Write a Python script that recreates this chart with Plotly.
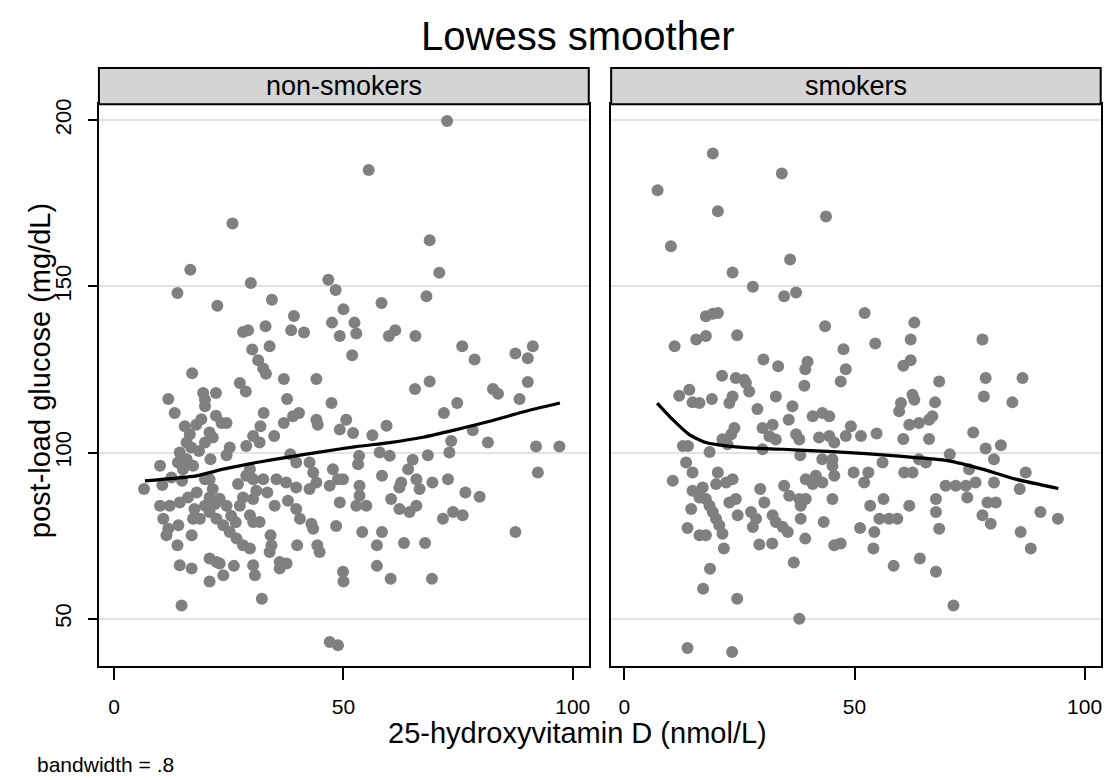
import plotly.graph_objects as go

# ---------------- data ----------------
panels = ["non-smokers", "smokers"]

ns_x = [72.6, 55.5, 25.8, 68.8, 16.6, 70.9, 29.8, 13.8, 46.7, 48.3, 22.5, 34.4, 58.3, 68.1, 50.0, 39.2, 47.5, 52.4,
        33.0, 28.1, 29.2, 38.6, 41.4, 52.8, 49.2, 61.3, 59.9, 65.7, 33.9, 30.1, 31.4, 32.5, 51.9, 75.9, 78.6, 87.5,
        91.3, 90.2, 17.0, 37.0, 44.1, 68.8, 27.4, 90.2,
        28.7, 33.1, 65.6, 82.6, 83.7, 88.4, 11.8, 19.4, 19.8, 19.8, 22.2, 37.7, 47.4, 74.8, 71.9, 13.2, 32.6, 22.2,
        40.3, 39.0, 44.1, 44.4, 37.0, 24.5, 50.6, 49.2, 52.1, 31.9, 59.4, 15.4, 17.9, 16.5, 15.8, 20.8, 19.8, 23.4,
        34.9, 30.3, 28.8, 31.7, 56.3, 78.2, 73.5, 73.1, 81.5, 92.0, 97.1, 92.4, 25.2, 24.5, 14.3, 13.9, 15.8, 17.2,
        15.0, 10.0, 6.5, 10.5, 38.4, 39.7, 42.6, 43.4, 44.1, 42.6, 53.4, 53.2, 57.9, 60.1, 68.4, 65.1, 64.1, 47.7,
        48.8, 47.0, 49.9, 29.6, 28.8, 30.3, 32.5, 35.4, 37.5, 39.7, 19.8, 20.8, 58.4, 62.6, 62.2, 65.9, 66.6, 69.4,
        72.8, 33.4, 53.5, 53.5, 52.8, 55.0, 60.4, 76.6, 79.7, 49.2, 10.0, 12.1, 14.3, 16.1, 20.8, 19.8, 18.7, 20.8,
        23.0, 24.5, 22.3, 28.1, 27.4, 30.3, 35.0, 37.9, 39.7, 40.5, 62.2, 64.4, 65.9, 71.7, 73.9, 76.0, 10.7, 11.8,
        14.0, 17.2, 29.6, 30.3, 31.7, 43.0, 43.4, 48.4, 23.8, 25.2, 26.7, 28.1, 29.6, 11.4, 16.9, 34.1, 34.3, 33.9,
        54.1, 58.4, 13.8, 39.9, 44.3, 44.8, 57.3, 63.2, 67.8, 87.5, 36.1, 37.6, 36.1, 20.8, 22.3, 23.0, 14.3, 16.9,
        26.1, 30.3, 30.7, 23.8, 20.8, 49.9, 50.0, 57.3, 60.3, 69.3, 32.2, 14.7, 47.0, 48.8,
        18.0, 21.5, 17.5, 22.0, 25.5, 26.5, 18.5, 21.0, 16.8, 19.0, 21.5, 27.0, 31.0, 14.8, 12.5]
ns_y = [199.8, 185.0, 168.9, 163.9, 155.0, 154.1, 151.0, 148.0, 152.0, 148.9, 144.2, 146.0, 145.0, 147.0, 143.1,
        141.1, 139.1, 139.1, 138.0, 136.3, 136.8, 136.8, 136.1, 135.8, 135.1, 136.8, 135.1, 135.1, 132.0, 131.0,
        127.8, 125.3, 129.3, 132.0, 128.0, 129.8, 132.0, 128.4, 123.9, 122.1, 122.1, 121.4, 120.9, 121.2,
        118.4, 123.7, 119.1, 119.1, 117.7, 116.1, 116.1, 117.9, 115.9, 113.9, 117.9, 116.1, 114.9, 114.9, 111.9,
        111.9, 111.9, 111.1, 111.9, 110.9, 109.9, 108.4, 108.9, 108.9, 109.9, 106.9, 105.9, 107.9, 108.1, 107.9,
        108.4, 105.5, 103.0, 106.0, 103.0, 108.9, 105.0, 105.0, 102.0, 103.0, 105.2, 106.7, 103.5, 100.0, 103.0,
        101.8, 101.8, 94.0, 101.5, 99.2, 100.0, 97.0, 98.0, 96.0, 95.0, 96.0, 89.0, 90.2, 99.5, 97.0, 97.0, 94.0,
        91.0, 89.0, 99.0, 96.5, 100.0, 99.0, 99.2, 97.8, 95.0, 95.0, 92.0, 90.0, 92.0, 95.0, 93.0, 92.0, 92.0, 92.0,
        91.0, 89.5, 92.0, 92.0, 93.0, 91.0, 89.5, 92.0, 89.0, 91.0, 92.0, 88.0, 90.0, 87.0, 84.0, 84.0, 86.0, 88.0,
        86.7, 85.0, 84.0, 84.0, 85.0, 86.5, 86.5, 84.0, 80.1, 82.1, 86.1, 84.0, 80.1, 86.5, 84.0, 86.0, 84.0, 85.5,
        83.0, 80.1, 83.0, 82.1, 84.0, 80.1, 82.1, 81.1, 80.1, 77.1, 78.1, 80.1, 81.1, 79.1, 79.1, 78.6, 77.1, 77.9,
        78.1, 76.1, 74.1, 72.1, 71.1, 75.1, 75.1, 75.1, 72.1, 70.1, 76.1, 76.1, 72.1, 72.1, 72.1, 70.1, 72.1, 72.8,
        72.8, 76.1, 67.1, 66.6, 65.1, 68.1, 67.1, 66.6, 66.1, 65.1, 65.9, 66.1, 63.1, 63.1, 61.2, 64.1, 61.2, 65.9,
        62.0, 62.0, 56.0, 54.0, 43.0, 42.0,
        88.0, 89.0, 83.0, 84.5, 81.0, 79.0, 100.5, 98.0, 101.5, 110.0, 104.5, 90.5, 88.5, 91.5, 92.5]

sm_x = [19.2, 34.2, 7.2, 20.3, 43.8, 10.1, 36.0, 23.5, 27.9, 34.7, 37.3, 17.7, 19.2, 20.3, 52.2, 63.0, 43.6, 15.6,
        17.7, 24.5, 10.9, 47.6, 54.5, 62.2, 77.8, 30.2, 33.4, 39.8, 39.3, 48.1, 60.6, 62.2, 21.2, 24.2, 26.0, 68.4,
        78.5, 86.5, 47.0,
        27.1, 26.4, 39.1, 11.9, 14.1, 14.8, 16.3, 19.0, 23.5, 22.8, 32.9, 36.5, 28.9, 78.1, 84.3, 62.6, 63.0, 60.1,
        59.7, 67.5, 40.9, 43.0, 44.5, 35.7, 61.9, 64.0, 66.2, 66.9, 49.2, 32.2, 30.0, 31.5, 32.9, 23.9, 23.2, 21.3,
        22.4, 37.3, 38.0, 54.8, 51.4, 48.1, 42.3, 44.5, 45.6, 75.8, 60.6, 66.2, 12.7, 13.8, 18.5, 30.0, 78.5, 81.8,
        80.3, 70.7, 38.2, 43.0, 45.2, 45.2, 56.1, 64.0, 65.5, 13.4, 14.8, 20.3, 10.5, 22.1, 23.5, 19.9, 39.4, 41.6,
        40.9, 43.0, 45.6, 49.8, 53.0, 52.1, 60.8, 62.6, 74.9, 87.2, 80.3, 74.2, 76.3, 74.5, 69.8, 72.0, 85.9, 14.8,
        17.0, 16.3, 17.7, 29.5, 34.7, 35.8, 38.0, 39.4, 45.2, 56.3, 67.7, 18.5, 19.2, 19.9, 20.6, 21.3, 22.8, 24.2,
        24.6, 30.4, 38.3, 38.3, 14.5, 27.5, 28.6, 27.9, 32.2, 32.9, 34.4, 35.5, 53.4, 61.9, 67.7, 68.4, 78.9, 80.7,
        77.8, 79.6, 90.4, 94.2, 55.4, 57.5, 59.3, 43.3, 13.7, 16.3, 17.7, 51.2, 54.3, 39.3, 29.3, 32.1, 45.6, 47.0,
        21.6, 54.1, 86.1, 88.3, 36.8, 18.6, 58.5, 64.2, 67.7, 17.1, 24.5, 71.5, 38.0, 13.7, 23.4]
sm_y = [190.0, 184.0, 178.9, 172.6, 171.0, 162.1, 158.1, 154.2, 149.9, 147.0, 148.2, 141.0, 141.8, 142.0, 142.0,
        139.1, 138.0, 134.0, 135.1, 135.3, 132.0, 131.1, 132.8, 134.0, 134.0, 128.0, 126.0, 127.3, 125.1, 125.1,
        126.1, 127.8, 123.1, 122.4, 121.9, 121.4, 122.4, 122.4, 121.4,
        118.4, 120.9, 120.1, 117.1, 118.9, 115.1, 114.9, 116.1, 116.9, 114.9, 116.9, 113.9, 113.1, 116.9, 115.1,
        117.4, 115.9, 114.9, 112.4, 115.1, 110.9, 111.9, 110.9, 109.9, 108.4, 108.9, 109.9, 110.9, 107.9, 108.4,
        107.4, 104.9, 103.9, 107.4, 105.5, 104.0, 102.5, 105.5, 103.9, 105.7, 105.0, 105.0, 104.5, 105.0, 103.0,
        106.0, 104.1, 104.1, 102.0, 102.0, 100.2, 101.0, 101.2, 102.2, 98.0, 99.5, 99.2, 98.0, 98.0, 96.0, 97.0,
        98.0, 97.0, 97.0, 94.0, 94.0, 91.5, 91.0, 92.0, 90.5, 92.0, 93.0, 90.5, 91.0, 93.0, 94.0, 94.0, 91.0, 94.0,
        94.0, 95.0, 94.0, 91.0, 90.0, 91.0, 86.5, 90.0, 90.0, 89.0, 88.5, 89.5, 86.5, 86.0, 89.0, 90.0, 87.0, 86.0,
        86.0, 86.0, 86.0, 86.0, 84.0, 82.1, 80.1, 78.1, 75.6, 85.0, 86.0, 81.1, 85.0, 84.0, 80.1, 83.0, 82.1, 80.1,
        77.6, 81.1, 79.1, 77.6, 76.1, 84.0, 84.0, 82.1, 77.1, 85.0, 85.0, 81.1, 78.6, 82.1, 80.1, 80.1, 80.1, 80.1,
        79.1, 77.3, 75.1, 75.1, 77.3, 76.1, 74.1, 72.3, 72.6, 72.1, 72.6, 71.1, 71.1, 76.1, 71.1, 66.9, 65.0, 65.9,
        68.1, 64.1, 59.0, 56.0, 54.0, 50.0, 41.2, 40.0]

# lowess curves (bandwidth = .8)
ns_lw_x = [6.7, 17.9, 23.8, 31.0, 38.3, 45.5, 52.8, 60.1, 67.3, 74.6, 81.9, 89.1, 97.2]
ns_lw_y = [91.5, 93.0, 95.0, 97.0, 98.7, 100.3, 101.8, 103.0, 104.6, 106.9, 109.4, 112.2, 114.9]
sm_lw_x = [7.1, 10.5, 14.1, 17.7, 22.1, 27.1, 34.4, 41.6, 48.8, 56.1, 63.3, 70.5, 77.8, 85.0, 94.3]
sm_lw_y = [114.9, 109.9, 105.4, 103.0, 102.0, 101.4, 101.0, 100.5, 100.0, 99.3, 98.5, 97.5, 95.0, 92.0, 89.2]

x_ticks = [0, 50, 100]
y_ticks = [50, 100, 150, 200]

# ---------------- figure ----------------
FONT = "Liberation Sans, Arial, sans-serif"
OFF = 8                      # page body margin that plotly's html keeps around the figure
W, H = 1111 - OFF, 780 - OFF
MARK = "#808080"

fig = go.Figure()
for xs, ys, lx, ly, xa, ya in [(ns_x, ns_y, ns_lw_x, ns_lw_y, "x", "y"),
                               (sm_x, sm_y, sm_lw_x, sm_lw_y, "x2", "y2")]:
    fig.add_trace(go.Scatter(x=xs, y=ys, mode="markers", xaxis=xa, yaxis=ya,
                             marker=dict(color=MARK, size=12, line=dict(width=0)),
                             showlegend=False, hoverinfo="x+y"))
    fig.add_trace(go.Scatter(x=lx, y=ly, mode="lines", xaxis=xa, yaxis=ya,
                             line=dict(color="black", width=3.2, shape="spline", smoothing=0.6),
                             showlegend=False))


def px_x(p):
    return (p - OFF) / W


def px_y(p):
    return 1 - (p - OFF) / H


x_common = dict(tickvals=x_ticks, ticks="outside", ticklen=12, tickwidth=2, tickcolor="black",
                showline=True, linecolor="black", linewidth=2, mirror=True,
                showgrid=False, zeroline=False, ticklabelstandoff=9,
                tickfont=dict(family=FONT, size=21, color="black"))
y_common = dict(tickvals=y_ticks, range=[35.8, 204.8], domain=[px_y(665), px_y(99)],
                showline=True, linecolor="black", linewidth=2, mirror=True,
                showgrid=True, gridcolor="#e3e3e3", gridwidth=1.5, zeroline=False)

fig.update_layout(
    width=W, height=H, margin=dict(l=0, r=0, t=0, b=0),
    paper_bgcolor="white", plot_bgcolor="white",
    xaxis=dict(domain=[px_x(99), px_x(589.3)], range=[-3.33, 103.5], anchor="y", **x_common),
    xaxis2=dict(domain=[px_x(611.7), px_x(1101.7)], range=[-2.89, 103.5], anchor="y2", **x_common),
    yaxis=dict(anchor="x", ticks="outside", ticklen=9, tickwidth=2, tickcolor="black",
               tickangle=-90, ticklabelstandoff=8,
               tickfont=dict(family=FONT, size=22, color="black"), **y_common),
    yaxis2=dict(anchor="x2", matches="y", showticklabels=False, ticks="", **y_common),
)

# panel headers
for xref, label, cx in [("x domain", panels[0], (99 + 589.3) / 2), ("x2 domain", panels[1], (611.7 + 1101.7) / 2)]:
    fig.add_shape(type="rect", xref=xref, yref="paper", x0=0, x1=1, y0=px_y(99), y1=px_y(62.3),
                  fillcolor="#d4d4d4", line=dict(color="black", width=2))
    fig.add_annotation(x=px_x(cx), y=px_y(80.5), xref="paper", yref="paper", text=label,
                       showarrow=False, xanchor="center", yanchor="middle",
                       font=dict(family=FONT, size=27, color="black"))

fig.add_annotation(x=px_x(578.5), y=px_y(30), xref="paper", yref="paper", text="Lowess smoother",
                   showarrow=False, xanchor="center", yanchor="middle",
                   font=dict(family=FONT, size=40, color="black"))
fig.add_annotation(x=px_x(40), y=px_y(367), xref="paper", yref="paper", text="post-load glucose (mg/dL)",
                   showarrow=False, xanchor="center", yanchor="middle", textangle=-90,
                   font=dict(family=FONT, size=29, color="black"))
fig.add_annotation(x=px_x(578), y=px_y(733), xref="paper", yref="paper", text="25-hydroxyvitamin D (nmol/L)",
                   showarrow=False, xanchor="center", yanchor="middle",
                   font=dict(family=FONT, size=29, color="black"))
fig.add_annotation(x=px_x(35), y=px_y(764), xref="paper", yref="paper", text="bandwidth = .8",
                   showarrow=False, xanchor="left", yanchor="middle",
                   font=dict(family=FONT, size=21, color="black"))

fig.write_html("out.html")
